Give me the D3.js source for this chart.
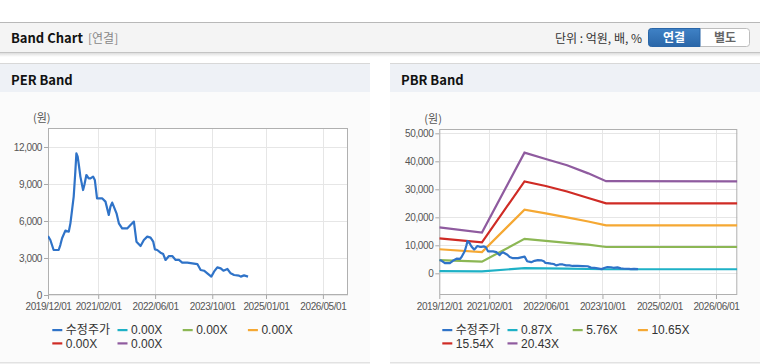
<!DOCTYPE html>
<html><head><meta charset="utf-8">
<script src="https://cdn.jsdelivr.net/npm/d3@7"></script>
<style>
html,body{margin:0;padding:0;background:#fff;}
svg{display:block;}
</style></head>
<body>
<div id="chart"></div>
<script>
// ---------- DATA ----------
const priceDates = ["2019-12-01","2019-12-21","2020-01-18","2020-03-01","2020-03-15","2020-03-30","2020-04-27","2020-05-26","2020-06-09","2020-06-23","2020-07-07","2020-07-21","2020-07-30","2020-08-10","2020-08-22","2020-09-02","2020-09-25","2020-10-06","2020-10-23","2020-11-12","2020-11-27","2020-12-19","2021-01-03","2021-01-22","2021-03-06","2021-04-04","2021-05-02","2021-05-16","2021-05-31","2021-06-14","2021-07-07","2021-07-27","2021-08-24","2021-10-06","2021-11-03","2021-12-02","2021-12-24","2022-01-28","2022-02-25","2022-03-26","2022-04-23","2022-05-16","2022-05-30","2022-06-19","2022-07-17","2022-08-09","2022-08-29","2022-09-27","2022-10-25","2022-11-23","2022-12-21","2023-01-18","2023-03-02","2023-04-14","2023-05-27","2023-06-24","2023-07-23","2023-08-20","2023-09-23","2023-10-16","2023-11-13","2023-12-12","2024-01-04","2024-02-07","2024-03-06","2024-04-04","2024-05-16","2024-05-31","2024-06-28","2024-08-01"];
const priceValues = [4780,4460,3650,3650,4050,4600,5220,5130,5810,6890,7970,10000,11490,11220,10400,9600,8510,8920,9730,9460,9460,9600,9330,7840,7840,7570,6490,7160,7490,7160,6620,5810,5400,5400,5680,5950,4320,3970,4460,4730,4650,4320,3700,3650,3430,3320,2840,3160,3160,2840,2840,2620,2620,2570,2510,2030,1970,1760,1490,1890,2240,2160,1970,2110,1760,1620,1570,1490,1590,1490];

const perLabels = ["수정주가","0.00X","0.00X","0.00X","0.00X","0.00X"];
const pbrLabels = ["수정주가","0.87X","5.76X","10.65X","15.54X","20.43X"];

// PBR band lines (values at each date)
const bandDates = ["2019-12-01","2020-12-01","2021-12-01","2022-06-01","2022-12-01","2023-06-01","2023-11-01","2026-12-01"];
const pbrBand087 = [780,700,1830,1730,1650,1530,1450,1450];
const pbrBand576 = [4700,4150,12300,11600,10900,10250,9400,9400];
const pbrBand1065 = [8600,7600,22700,21400,20000,18500,17100,17100];
const pbrBand1554 = [12500,11070,32800,31200,29200,26900,25000,25000];
const pbrBand2043 = [16400,14550,43100,40800,38600,35700,32900,32800];
// PER bands are all 0.00X -> no lines drawn
const perBands = [[],[],[],[],[]];

const perXTicks = ["2019-12-01","2021-02-01","2022-06-01","2023-10-01","2025-01-01","2026-05-01"];
const pbrXTicks = ["2019-12-01","2021-02-01","2022-06-01","2023-10-01","2025-02-01","2026-06-01"];
const perYTicks = [0,3000,6000,9000,12000];
const pbrYTicks = [0,10000,20000,30000,40000,50000];
const xDomain = ["2019-12-01","2026-12-01"];
const perYDomain = [0,13540];
const pbrYDomain = [-7750,51540];

const colors = ["#2f73c8","#1eb1c6","#8cb754","#f5a833","#cf2b25","#8f5b9f"];

// ---------- DRAW ----------
const W = 760, H = 364;
const parse = d3.utcParse("%Y-%m-%d");
const fmt = d3.utcFormat("%Y/%m/%d");
const svg = d3.select("#chart").append("svg").attr("width",W).attr("height",H);
const defs = svg.append("defs");
const sh = defs.append("linearGradient").attr("id","shadow").attr("x1",0).attr("y1",0).attr("x2",0).attr("y2",1);
sh.append("stop").attr("offset","0%").attr("stop-color","#000").attr("stop-opacity",0.13);
sh.append("stop").attr("offset","100%").attr("stop-color","#000").attr("stop-opacity",0);
const bg = defs.append("linearGradient").attr("id","btn").attr("x1",0).attr("y1",0).attr("x2",0).attr("y2",1);
bg.append("stop").attr("offset","0%").attr("stop-color","#3f82c6");
bg.append("stop").attr("offset","100%").attr("stop-color","#2a66a8");

const KFONT = "'Noto Sans CJK KR','Noto Sans',sans-serif";
const AFONT = "'Liberation Sans',Arial,'Noto Sans CJK KR',sans-serif";

// top header bar
svg.append("rect").attr("x",0).attr("y",22).attr("width",W).attr("height",1).attr("fill","#b8b8b8");
svg.append("rect").attr("x",0).attr("y",23).attr("width",W).attr("height",29).attr("fill","#f4f4f4");
svg.append("rect").attr("x",0).attr("y",52).attr("width",W).attr("height",1).attr("fill","#c4c4c4");
svg.append("rect").attr("x",0).attr("y",53).attr("width",W).attr("height",4).attr("fill","url(#shadow)");
svg.append("text").attr("x",11).attr("y",42.5).attr("font-family",KFONT).attr("font-size",13).attr("font-weight","bold").attr("fill","#111").text("Band Chart");
svg.append("text").attr("x",88).attr("y",42.5).attr("font-family",KFONT).attr("font-size",12).attr("fill","#888").text("[연결]");
svg.append("text").attr("x",642).attr("y",42.5).attr("text-anchor","end").attr("font-family",KFONT).attr("font-size",12).attr("fill","#333").text("단위 : 억원, 배, %");
// buttons
svg.append("rect").attr("x",648.5).attr("y",28.5).attr("width",101).attr("height",18).attr("rx",3).attr("fill","#fff").attr("stroke","#bdbdbd");
svg.append("path").attr("d","M651.5,28.5 H700 V46.5 H651.5 A3,3 0 0 1 648.5,43.5 V31.5 A3,3 0 0 1 651.5,28.5 Z").attr("fill","url(#btn)").attr("stroke","#2a66a8");
svg.append("text").attr("x",674).attr("y",42).attr("text-anchor","middle").attr("font-family",KFONT).attr("font-size",12).attr("font-weight","bold").attr("fill","#fff").text("연결");
svg.append("text").attr("x",725).attr("y",42).attr("text-anchor","middle").attr("font-family",KFONT).attr("font-size",12).attr("font-weight","bold").attr("fill","#666").text("별도");

function panel(x0, w, title){
  const g = svg.append("g");
  g.append("rect").attr("x",x0).attr("y",63).attr("width",w).attr("height",1).attr("fill","#d8d8d8");
  g.append("rect").attr("x",x0).attr("y",64).attr("width",w).attr("height",28).attr("fill","#eef1f6");
  g.append("rect").attr("x",x0).attr("y",92).attr("width",w).attr("height",270).attr("fill","#fbfbfb");
  g.append("rect").attr("x",x0).attr("y",362).attr("width",w).attr("height",1.5).attr("fill","#e2e2e2");
  g.append("text").attr("x",x0+11).attr("y",84.5).attr("font-family",KFONT).attr("font-size",13).attr("font-weight","bold").attr("fill","#111").text(title);
}
panel(0,370,"PER Band");
panel(390,370,"PBR Band");

function chart(opt){
  const x = d3.scaleUtc().domain(xDomain.map(parse)).range([opt.left,opt.right]);
  const y = d3.scaleLinear().domain(opt.yDomain).range([opt.bottom,opt.top]);
  const g = svg.append("g");
  g.append("rect").attr("x",opt.left).attr("y",opt.top).attr("width",opt.right-opt.left).attr("height",opt.bottom-opt.top).attr("fill","#fff");
  // grid
  g.append("g").selectAll("line").data(opt.xTicks.map(parse)).join("line")
    .attr("x1",d=>Math.round(x(d))+0.5).attr("x2",d=>Math.round(x(d))+0.5).attr("y1",opt.top).attr("y2",opt.bottom)
    .attr("stroke","#e6e6e6");
  g.append("g").selectAll("line").data(opt.yTicks).join("line")
    .attr("x1",opt.left).attr("x2",opt.right).attr("y1",d=>Math.round(y(d))+0.5).attr("y2",d=>Math.round(y(d))+0.5)
    .attr("stroke","#e6e6e6");
  // axes
  const xa = g.append("g").attr("transform",`translate(0,${opt.bottom})`)
    .call(d3.axisBottom(x).tickValues(opt.xTicks.map(parse)).tickFormat(fmt).tickSize(4).tickPadding(4));
  const ya = g.append("g").attr("transform",`translate(${opt.left},0)`)
    .call(d3.axisLeft(y).tickValues(opt.yTicks).tickFormat(d3.format(",")).tickSize(4).tickPadding(2));
  [xa,ya].forEach(a=>{
    a.select(".domain").remove();
    a.selectAll("line").attr("stroke","#a8a8a8");
    a.selectAll("text").attr("font-family",AFONT).attr("font-size",10).attr("letter-spacing","-0.4").attr("fill","#555");
  });
  g.append("rect").attr("x",opt.left+0.5).attr("y",opt.top+0.5).attr("width",opt.right-opt.left-1).attr("height",opt.bottom-opt.top-1)
    .attr("fill","none").attr("stroke","#b0b0b0");
  g.append("text").attr("x",opt.left-15).attr("y",opt.top-6).attr("font-family",KFONT).attr("font-size",11).attr("fill","#555").text("(원)");
  // lines
  const line = d3.line().x(d=>x(d[0])).y(d=>y(d[1]));
  const clipId = "clip"+Math.round(opt.left);
  defs.append("clipPath").attr("id",clipId).append("rect").attr("x",opt.left).attr("y",opt.top).attr("width",opt.right-opt.left).attr("height",opt.bottom-opt.top);
  const lg = g.append("g").attr("clip-path",`url(#${clipId})`);
  opt.bands.forEach((b,i)=>{
    if(!b.length) return;
    lg.append("path").datum(bandDates.map((d,j)=>[parse(d),b[j]])).attr("d",line)
      .attr("fill","none").attr("stroke",colors[i+1]).attr("stroke-width",2.2);
  });
  lg.append("path").datum(priceDates.map((d,j)=>[parse(d),priceValues[j]])).attr("d",line)
    .attr("fill","none").attr("stroke",colors[0]).attr("stroke-width",2.2).attr("stroke-linejoin","round");
  // legend
  const leg = g.append("g");
  opt.labels.forEach((t,i)=>{
    const col = i%4, row = Math.floor(i/4);
    const lx = opt.legX + col*65.2, ly = 330 + row*13.3;
    leg.append("rect").attr("x",lx).attr("y",ly-1).attr("width",10).attr("height",2.2).attr("fill",colors[i]);
    leg.append("text").attr("x",lx+13.5).attr("y",ly+4.4).attr("font-family",AFONT).attr("font-size",12).attr("fill","#333").text(t);
  });
}
chart({left:48,right:348,top:128,bottom:295,yDomain:perYDomain,xTicks:perXTicks,yTicks:perYTicks,bands:perBands,labels:perLabels,legX:52.3});
chart({left:439.3,right:737.3,top:129,bottom:295,yDomain:pbrYDomain,xTicks:pbrXTicks,yTicks:pbrYTicks,bands:[pbrBand087,pbrBand576,pbrBand1065,pbrBand1554,pbrBand2043],labels:pbrLabels,legX:442.3});
</script>
</body></html>
